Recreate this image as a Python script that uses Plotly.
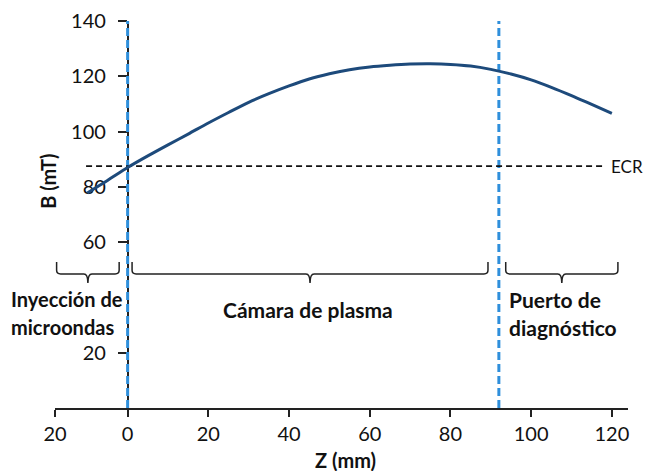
import plotly.graph_objects as go

# ---- data ----
z_mm = [-10, -5, 0, 5, 10, 15, 20, 25, 30, 35, 40, 45, 50, 55, 60, 65, 70,
        75, 80, 85, 90, 95, 100, 105, 110, 115, 120]
b_mT = [77.8, 82.3, 87.0, 91.2, 95.2, 99.1, 103.1, 106.9, 110.6, 113.7, 116.5,
        119.0, 120.9, 122.4, 123.4, 124.0, 124.4, 124.5, 124.3, 123.7, 122.5,
        120.8, 118.7, 116.0, 113.0, 109.8, 106.6]

ecr_value = 87.5
ecr_z = [-10.3, 118.4]

boundary_z = [0, 92]
boundary_top = [140, 141]

x_tickvals = [-18, 0, 20, 40, 60, 80, 100, 120]
x_ticktext = ["20", "0", "20", "40", "60", "80", "100", "120"]
y_tickvals = [20, 60, 80, 100, 120, 140]
y_ticktext = ["20", "60", "80", "100", "120", "140"]

brace_start = [-17.6, 1.1, 93.7]
brace_end = [-2.1, 89.3, 121.5]

region_lines = [["Inyección de", "microondas"], ["Cámara de plasma"], ["Puerto de", "diagnóstico"]]
region_x = [-29.2, 44.7, 94.3]

FONT = "Lato"
NAVY = "#1d4a7b"
BLUE = "#2f8fdb"
x_min, x_max = -18, 124
y_min, y_max = 0, 140


def px(z):
    return (z - x_min) / (x_max - x_min)


def py(b):
    return (b - y_min) / (y_max - y_min)


fig = go.Figure()

# boundary lines
for zb, top in zip(boundary_z, boundary_top):
    fig.add_trace(go.Scatter(x=[zb, zb], y=[0, top], mode="lines",
                             line=dict(color=BLUE, width=3, dash="8px,4px"),
                             hoverinfo="skip", showlegend=False, cliponaxis=False))

# ECR line
fig.add_trace(go.Scatter(x=ecr_z, y=[ecr_value, ecr_value], mode="lines",
                         line=dict(color="#111111", width=1.6, dash="6px,4px"),
                         hoverinfo="skip", showlegend=False))

# field curve
fig.add_trace(go.Scatter(x=z_mm, y=b_mT, mode="lines",
                         line=dict(color=NAVY, width=3, shape="spline", smoothing=0.8),
                         showlegend=False))

# braces
y_top, y_flat, y_tip = 52.8, 48.5, 45.2
dx, h = 1.0, 1.3
shapes = []
for x0, x1 in zip(brace_start, brace_end):
    xm = (x0 + x1) / 2
    p = (f"M {x0},{y_top} L {x0},{y_flat + h} Q {x0},{y_flat} {x0 + dx},{y_flat} "
         f"L {xm - dx},{y_flat} Q {xm},{y_flat} {xm},{y_tip} "
         f"Q {xm},{y_flat} {xm + dx},{y_flat} L {x1 - dx},{y_flat} "
         f"Q {x1},{y_flat} {x1},{y_flat + h} L {x1},{y_top}")
    shapes.append(dict(type="path", path=p, xref="x", yref="y",
                       line=dict(color="#222222", width=1.5), layer="above"))

annotations = []
line_y = [[39.4, 29.3], [35.5], [39.4, 29.3]]
region_size = [20, 21, 21]
for lines, xx, ys, fs in zip(region_lines, region_x, line_y, region_size):
    for t, yy in zip(lines, ys):
        centered = len(lines) == 1
        annotations.append(dict(
            x=px(xx), y=py(yy), xref="paper", yref="paper", text=f"<b>{t}</b>",
            showarrow=False,
            xanchor="center" if centered else "left", yanchor="middle",
            font=dict(family=FONT, size=fs, color="#111111"),
            bgcolor="white" if xx < 0 else "rgba(0,0,0,0)",
            borderpad=0))

annotations.append(dict(x=px(ecr_z[1] + 1.0), y=py(ecr_value), xref="paper", yref="paper",
                        text="ECR", showarrow=False, xanchor="left", yanchor="middle",
                        font=dict(family=FONT, size=17, color="#111111")))
annotations.append(dict(x=px(-19.6), y=py(82), xref="paper", yref="paper",
                        text="<b>B (mT)</b>", showarrow=False, textangle=-90,
                        xanchor="center", yanchor="middle",
                        font=dict(family=FONT, size=20, color="#111111")))
annotations.append(dict(x=px(54.1), y=py(-18.8), xref="paper", yref="paper",
                        text="<b>Z (mm)</b>", showarrow=False,
                        xanchor="center", yanchor="middle",
                        font=dict(family=FONT, size=20, color="#111111")))

fig.update_layout(
    width=648, height=471,
    margin=dict(l=55, r=20, t=21, b=63, autoexpand=False),
    paper_bgcolor="white", plot_bgcolor="white",
    shapes=shapes, annotations=annotations,
    xaxis=dict(range=[x_min, x_max], tickvals=x_tickvals, ticktext=x_ticktext,
               showline=True, linecolor="#222222", linewidth=1.5,
               ticks="outside", ticklen=7, tickwidth=1.5, tickcolor="#222222",
               showgrid=False, zeroline=False, layer="below traces", automargin=False,
               tickfont=dict(family=FONT, size=20, color="#111111")),
    yaxis=dict(range=[y_min, y_max], tickvals=y_tickvals, ticktext=y_ticktext,
               anchor="free", position=px(0), automargin=False,
               showline=True, linecolor="#222222", linewidth=1.5,
               ticks="outside", ticklen=9, tickwidth=1.5, tickcolor="#222222",
               ticklabelstandoff=8,
               showgrid=False, zeroline=False, layer="below traces",
               tickfont=dict(family=FONT, size=20, color="#111111")),
)

fig.write_html("out.html", config={"displayModeBar": False},
               post_script="document.body.style.margin='0';document.body.style.overflow='hidden';")
